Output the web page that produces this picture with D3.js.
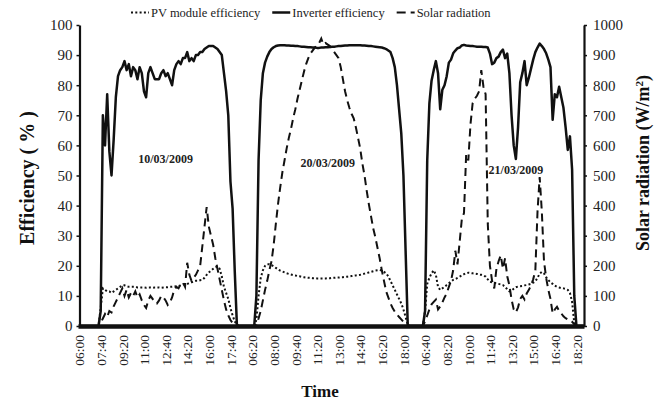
<!DOCTYPE html>
<html>
<head>
<meta charset="utf-8">
<script src="https://cdn.jsdelivr.net/npm/d3@7"></script>
<style>
  body { margin: 0; background: #fff; }
  svg { display: block; }
  svg text { font-family: "Liberation Serif", "Times New Roman", serif; }
</style>
</head>
<body>
<svg id="chart" width="667" height="401"></svg>
<script>
// three days, sampled every 10 minutes from 06:00 to 18:50
const dates = ["10/03/2009", "20/03/2009", "21/03/2009"];
const dayTimes = [];
for (let m = 360; m <= 1130; m += 10) {
  dayTimes.push(String(Math.floor(m / 60)).padStart(2, "0") + ":" + String(m % 60).padStart(2, "0"));
}
const categories = dates.flatMap(d => dayTimes.map(t => d + "|" + t));

const tickLabels = ["06:00", "07:40", "09:20", "11:00", "12:40", "14:20", "16:00", "17:40",
  "06:20", "08:00", "09:40", "11:20", "13:00", "14:40", "16:20", "18:00",
  "06:40", "08:20", "10:00", "11:40", "13:20", "15:00", "16:40", "18:20"];

// inverter efficiency (%)
const inv1 = [0,0,0,0,0,0,0,0,0,0,
  5,70,60,77,58,50,62,76,83,85,
  86,88,85,87,83,86,85,82,86,84,
  78,76,84,86,84,82,82,82,84,85,
  83,84,82,80,85,87,88,87,89,89,
  91,88,89,88,90,90,91,91,92,92.5,
  93,93,93,92.5,92,91,90,84,78,70,
  48,39,18,0,0,0,0,0];
const inv2 = [0,0,0,0,10,55,75,84,87.5,89.5,
  91,92,92.6,93,93.2,93.3,93.3,93.3,93.2,93.2,
  93.1,93.1,93,93,92.9,92.8,92.8,92.7,92.6,92.6,
  92.5,92.5,92.4,92.4,92.5,92.5,92.6,92.6,92.7,92.8,
  92.8,92.9,93,93,93.1,93.2,93.2,93.3,93.3,93.3,
  93.3,93.3,93.3,93.2,93.2,93.1,93,93,92.9,92.8,
  92.7,92.6,92.5,92.3,92,91.5,91,89,86,80,
  72,64,50,25,0,0,0,0];
const inv3 = [0,0,0,0,5,55,74,81.5,85,88,
  84,72,78.5,80,83,87.5,88.5,90.6,91.5,92.3,
  92.5,93.2,93.4,93.2,93.1,93,93,92.9,92.8,92.8,
  92.8,92.7,92.7,92.5,90.5,87,87.5,89,89.5,91,
  91.8,89,90.5,84,70,60,55.5,66,81,84,
  88,80,82.5,85.5,88.5,91,92.5,93.8,93,92,
  90.6,88.5,86,68.5,77,76,79.5,76,72.5,66,
  58.5,63,52,10,0,0,0,0];

// PV module efficiency (%)
const pv1 = [0,0,0,0,0,0,0,0,0,0,
  6,12.5,12,11.5,11.5,11,11.5,12,12.5,13,
  13.5,13.5,13.2,13,13,13,13,12.8,12.8,12.8,
  12.8,12.7,12.8,12.8,12.7,12.8,12.8,12.8,12.7,12.8,
  12.9,12.9,13,13,13.1,13.2,13.3,13.5,13.8,14,
  14,14.2,14.5,14.8,15,15,15.2,15.3,16,17,
  17.8,18.4,19,19.5,19.8,19,16.5,13,11,9,
  6,3.5,1.5,0.5,0,0,0,0];
const pv2 = [0,0,0,0,2,10,16,18.5,20,20.5,
  20.5,20.2,19.8,19.3,18.8,18.4,18.1,17.8,17.5,17.3,
  17.1,16.9,16.8,16.6,16.5,16.3,16.2,16.1,16,16,
  15.9,15.9,15.8,15.8,15.8,15.8,15.8,15.9,15.9,16,
  16,16.1,16.1,16.2,16.2,16.3,16.4,16.5,16.6,16.7,
  16.8,16.9,17,17.2,17.4,17.6,17.8,18,18.2,18.4,
  18.5,18.6,18.4,18,17.5,16.5,15,13.5,12,10.5,
  9,7.5,5.5,3,0.5,0,0,0];
const pv3 = [0,0,0,0,5,14,16,17.5,18.5,17,
  13,12,12.5,13,13.6,14.2,14.8,15.3,15.6,16,
  16.4,16.8,17.2,17.6,17.7,17.6,17.5,17.4,17.3,17.1,
  17,16.8,16.4,15.5,14.7,14.5,14.3,14.2,14,13.8,
  13.6,13,12.2,11.5,11.8,12.4,12.9,13.1,13.2,13.3,
  13.5,13.6,13.8,14,14.4,14.8,16,17.4,18,17.5,
  16.2,15.3,14.5,14,13.4,13,12.8,12.6,12.5,12.3,
  12,11,8,1,0,0,0,0];

// solar radiation (W/m2)
const rad1 = [0,0,0,0,0,0,0,0,0,0,
  10,25,40,30,50,45,65,80,95,110,
  125,100,120,95,110,100,115,95,105,85,
  70,60,85,100,90,78,75,85,100,95,
  85,70,78,95,120,130,125,140,145,130,
  210,170,150,160,170,185,200,265,330,395,
  330,300,270,225,190,155,120,85,55,35,
  20,10,5,0,0,0,0,0];
const rad2 = [0,0,0,0,5,25,50,85,120,150,
  185,215,270,340,405,460,510,550,590,625,
  655,690,720,755,785,815,845,870,890,905,
  915,925,930,940,955,935,940,935,930,920,
  910,900,890,860,820,780,750,725,705,690,
  660,625,590,540,500,450,405,365,325,295,
  260,225,185,150,115,95,75,60,48,38,
  30,22,14,8,2,0,0,0];
const rad3 = [0,0,0,0,15,35,55,72,80,88,
  55,65,78,95,108,130,150,185,250,205,
  280,355,375,570,550,670,740,755,765,780,
  850,795,770,340,200,150,125,190,215,235,
  190,225,165,135,88,55,45,62,90,100,
  88,108,120,135,155,185,380,495,380,215,
  160,120,90,42,55,64,50,42,32,26,
  22,20,14,6,0,0,0,0];

const inverter = inv1.concat(inv2, inv3);
const pvModule = pv1.concat(pv2, pv3);
const radiation = rad1.concat(rad2, rad3);

const svg = d3.select("#chart");
const ink = "#111";
const serif = "'Liberation Serif', 'Times New Roman', serif";

const x = d3.scalePoint().domain(categories).range([78, 584]).padding(0.5);
const yL = d3.scaleLinear().domain([0, 100]).range([326, 25]);
const yR = d3.scaleLinear().domain([0, 1000]).range([326, 25]);

// series
const lineL = d3.line().x((d, i) => x(categories[i])).y(d => yL(d));
const lineR = d3.line().x((d, i) => x(categories[i])).y(d => yR(d));

svg.append("path").datum(radiation)
  .attr("d", lineR).attr("fill", "none").attr("stroke", ink)
  .attr("stroke-width", 2).attr("stroke-dasharray", "8,5");
svg.append("path").datum(pvModule)
  .attr("d", lineL).attr("fill", "none").attr("stroke", ink)
  .attr("stroke-width", 2).attr("stroke-dasharray", "2,2.3");
svg.append("path").datum(inverter)
  .attr("d", lineL).attr("fill", "none").attr("stroke", ink)
  .attr("stroke-width", 2.5).attr("stroke-linejoin", "round");

// axes
const tickCats = tickLabels.map((t, i) => categories[i * 10]);
const xAxis = svg.append("g")
  .attr("transform", "translate(0,326)")
  .call(d3.axisBottom(x).tickValues(tickCats).tickSize(0).tickSizeOuter(0)
    .tickFormat((d, i) => tickLabels[i]));
xAxis.select(".domain").attr("stroke", ink).attr("stroke-width", 4.5);
xAxis.selectAll("text")
  .attr("transform", "rotate(-90)")
  .attr("x", -9).attr("y", 0).attr("dy", "0.35em")
  .attr("text-anchor", "end")
  .style("font-size", "13.5px").style("font-family", serif).attr("fill", "#222");

const leftAxis = svg.append("g")
  .attr("transform", "translate(79.5,0)")
  .call(d3.axisLeft(yL).tickValues(d3.range(0, 101, 10)).tickSize(3).tickPadding(4).tickSizeOuter(0));
leftAxis.select(".domain").attr("stroke", ink).attr("stroke-width", 2.2);
leftAxis.selectAll("line").attr("stroke", ink).attr("stroke-width", 1.5);
leftAxis.selectAll("text").style("font-size", "15px").style("font-family", serif).attr("fill", "#222");

const rightAxis = svg.append("g")
  .attr("transform", "translate(584,0)")
  .call(d3.axisRight(yR).tickValues(d3.range(0, 1001, 100)).tickFormat(d3.format("d"))
    .tickSize(3).tickPadding(6).tickSizeOuter(0));
rightAxis.select(".domain").attr("stroke", ink).attr("stroke-width", 2.2);
rightAxis.selectAll("line").attr("stroke", ink).attr("stroke-width", 1.5);
rightAxis.selectAll("text").style("font-size", "15px").style("font-family", serif).attr("fill", "#222");

// axis titles
svg.append("text")
  .attr("transform", "translate(34,178) rotate(-90)")
  .attr("text-anchor", "middle").attr("font-weight", "bold").style("font-size", "20px")
  .attr("fill", ink).text("Efficiency ( % )");

const rTitle = svg.append("text")
  .attr("transform", "translate(649,163) rotate(-90)")
  .attr("text-anchor", "middle").attr("font-weight", "bold").style("font-size", "18px")
  .attr("fill", ink);
rTitle.append("tspan").text("Solar radiation (W/m");
rTitle.append("tspan").attr("baseline-shift", "super").style("font-size", "11px").text("2");
rTitle.append("tspan").text(")");

svg.append("text")
  .attr("x", 320).attr("y", 397)
  .attr("text-anchor", "middle").attr("font-weight", "bold").style("font-size", "17px")
  .attr("fill", ink).text("Time");

// day labels
const dayLabelAt = [{ i: 40, v: 54 }, { i: 115, v: 52.8 }, { i: 202, v: 50.5 }];
dates.forEach((d, k) => {
  svg.append("text")
    .attr("x", x(categories[dayLabelAt[k].i]))
    .attr("y", yL(dayLabelAt[k].v))
    .attr("text-anchor", "middle").attr("font-weight", "bold").style("font-size", "12px")
    .attr("fill", "#222").text(d);
});

// legend
const legendItems = [
  { label: "PV module efficiency", dash: "2,2.3", w: 2 },
  { label: "Inverter efficiency", dash: null, w: 2.5 },
  { label: "Solar radiation", dash: "9,5", w: 2 }
];
let lx = 131;
legendItems.forEach(it => {
  svg.append("line")
    .attr("x1", lx).attr("x2", lx + 18).attr("y1", 12.5).attr("y2", 12.5)
    .attr("stroke", ink).attr("stroke-width", it.w)
    .attr("stroke-dasharray", it.dash);
  const t = svg.append("text")
    .attr("x", lx + 20).attr("y", 17)
    .style("font-size", "12.5px").attr("fill", "#222").text(it.label);
  lx += 20 + t.node().getComputedTextLength() + 12;
});
</script>
</body>
</html>
